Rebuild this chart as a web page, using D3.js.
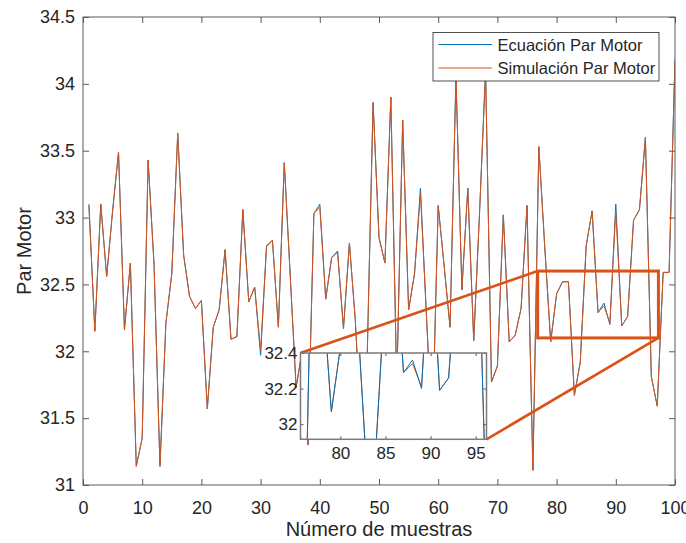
<!DOCTYPE html>
<html>
<head>
<meta charset="utf-8">
<script src="https://cdn.jsdelivr.net/npm/d3@7"></script>
<style>
  body { margin: 0; background: #fff; }
  svg { display: block; font-family: "Liberation Sans", Arial, sans-serif; }
</style>
</head>
<body>
<svg id="chart" width="686" height="543"></svg>
<script>
// Sample index (x) and the two torque series
const muestras = d3.range(1, 101);

const parEcuacion = [
  33.10, 32.15, 33.10, 32.56, 33.05, 33.49, 32.16, 32.66, 31.14, 31.35,
  33.43, 32.65, 31.14, 32.21, 32.58, 33.63, 32.72, 32.41, 32.32, 32.38,
  31.57, 32.18, 32.31, 32.76, 32.09, 32.11, 33.06, 32.37, 32.48, 31.97,
  32.79, 32.83, 32.18, 33.41, 32.57, 31.73, 32.00, 31.30, 33.03, 33.10,
  32.39, 32.70, 32.75, 32.17, 32.81, 32.23, 31.40, 31.95, 33.86, 32.85,
  32.66, 33.90, 31.75, 33.73, 32.31, 32.58, 33.22, 32.28, 31.37, 33.09,
  32.64, 32.18, 34.06, 32.46, 33.22, 32.08, 33.05, 34.10, 31.77, 31.89,
  33.02, 32.07, 32.12, 32.32, 33.09, 31.11, 33.53, 32.78, 32.07, 32.43,
  32.52, 32.52, 31.67, 31.92, 32.79, 33.05, 32.29, 32.36, 32.20, 33.10,
  32.19, 32.26, 32.98, 33.06, 33.60, 31.81, 31.59, 32.59, 32.59, 34.19
];

const parSimulacion = [
  33.09, 32.15, 33.10, 32.56, 33.05, 33.49, 32.16, 32.66, 31.14, 31.35,
  33.43, 32.65, 31.14, 32.21, 32.58, 33.63, 32.72, 32.41, 32.32, 32.38,
  31.57, 32.18, 32.31, 32.76, 32.09, 32.11, 33.06, 32.37, 32.48, 32.01,
  32.78, 32.83, 32.18, 33.41, 32.57, 31.73, 32.00, 31.30, 33.03, 33.08,
  32.39, 32.70, 32.74, 32.17, 32.81, 32.23, 31.40, 31.95, 33.86, 32.85,
  32.66, 33.90, 31.75, 33.73, 32.31, 32.58, 33.18, 32.28, 31.37, 33.09,
  32.64, 32.18, 34.06, 32.46, 33.22, 32.08, 33.05, 34.10, 31.77, 31.89,
  33.02, 32.07, 32.12, 32.32, 33.09, 31.11, 33.53, 32.78, 32.07, 32.43,
  32.52, 32.52, 31.67, 31.92, 32.79, 33.05, 32.29, 32.34, 32.21, 33.05,
  32.19, 32.26, 32.98, 33.06, 33.60, 31.81, 31.59, 32.59, 32.59, 34.16
];

const seriesNames = ["Ecuación Par Motor", "Simulación Par Motor"];
const seriesColors = ["#0072BD", "#D95319"];

const xTicks = [0, 10, 20, 30, 40, 50, 60, 70, 80, 90, 100];
const yTicks = [31, 31.5, 32, 32.5, 33, 33.5, 34, 34.5];
const xDomain = [0, 100];
const yDomain = [31, 34.5];

// Highlighted region and the magnified view
const zoomBoxX = [76.8, 97.2];
const zoomBoxY = [32.1, 32.6];
const zoomXDomain = [75.58, 96.2];
const zoomYDomain = [31.915, 32.4];
const zoomXTicks = [80, 85, 90, 95];
const zoomYTicks = [32, 32.2, 32.4];

const axisColor = "#262626";
const frameColor = "#5a5a5a";
const lineWidth = 1.0;

const svg = d3.select("#chart");

// ---------- main axes ----------
const plot = { left: 83, right: 675, top: 17, bottom: 485 };
const x = d3.scaleLinear(xDomain, [plot.left, plot.right]);
const y = d3.scaleLinear(yDomain, [plot.bottom, plot.top]);

const rows = muestras.map((m, i) => ({ m, ec: parEcuacion[i], sim: parSimulacion[i] }));

const lineEc = d3.line().x(d => x(d.m)).y(d => y(d.ec));
const lineSim = d3.line().x(d => x(d.m)).y(d => y(d.sim));

svg.append("defs").append("clipPath").attr("id", "clipMain")
  .append("rect")
  .attr("x", plot.left).attr("y", plot.top)
  .attr("width", plot.right - plot.left).attr("height", plot.bottom - plot.top);

const dataG = svg.append("g").attr("clip-path", "url(#clipMain)");
dataG.append("path").datum(rows).attr("d", lineEc)
  .attr("fill", "none").attr("stroke", seriesColors[0]).attr("stroke-width", lineWidth);
dataG.append("path").datum(rows).attr("d", lineSim)
  .attr("fill", "none").attr("stroke", seriesColors[1]).attr("stroke-width", lineWidth);

function styleAxis(g, fontSize) {
  g.select(".domain").remove();
  g.selectAll(".tick line").attr("stroke", frameColor);
  g.selectAll(".tick text").attr("fill", axisColor)
    .attr("font-size", fontSize).attr("font-family", "Liberation Sans, Arial, sans-serif");
}

svg.append("g").attr("transform", `translate(0,${plot.bottom})`)
  .call(d3.axisBottom(x).tickValues(xTicks).tickSize(-6).tickPadding(16.5).tickFormat(d => String(d)))
  .call(g => styleAxis(g, 18));
svg.append("g").attr("transform", `translate(0,${plot.top})`)
  .call(d3.axisTop(x).tickValues(xTicks).tickSize(-6).tickFormat(""))
  .call(g => styleAxis(g, 18));
svg.append("g").attr("transform", `translate(${plot.left},0)`)
  .call(d3.axisLeft(y).tickValues(yTicks).tickSize(-6).tickPadding(8).tickFormat(d => String(d)))
  .call(g => styleAxis(g, 18));
svg.append("g").attr("transform", `translate(${plot.right},0)`)
  .call(d3.axisRight(y).tickValues(yTicks).tickSize(-6).tickFormat(""))
  .call(g => styleAxis(g, 18));

svg.append("rect")
  .attr("x", plot.left).attr("y", plot.top)
  .attr("width", plot.right - plot.left).attr("height", plot.bottom - plot.top)
  .attr("fill", "none").attr("stroke", frameColor).attr("stroke-width", 1);

// axis titles
svg.append("text")
  .attr("x", (plot.left + plot.right) / 2).attr("y", 536)
  .attr("text-anchor", "middle").attr("font-size", 20).attr("fill", axisColor)
  .text("Número de muestras");
svg.append("text")
  .attr("transform", `translate(31,${(plot.top + plot.bottom) / 2}) rotate(-90)`)
  .attr("text-anchor", "middle").attr("font-size", 20).attr("fill", axisColor)
  .text("Par Motor");

// ---------- legend ----------
const legend = svg.append("g");
legend.append("rect")
  .attr("x", 433).attr("y", 32.5).attr("width", 226).attr("height", 48.5)
  .attr("fill", "#fff").attr("stroke", axisColor).attr("stroke-width", 0.8);
seriesNames.forEach((name, i) => {
  const ly = 44.5 + i * 23.5;
  legend.append("line")
    .attr("x1", 438.5).attr("x2", 492).attr("y1", ly).attr("y2", ly)
    .attr("stroke", seriesColors[i]).attr("stroke-width", lineWidth);
  legend.append("text")
    .attr("x", 497.5).attr("y", ly + 6)
    .attr("font-size", 16.5).attr("fill", axisColor)
    .text(name);
});

// ---------- highlighted region + connectors ----------
const inset = { left: 300.5, right: 486.5, top: 353, bottom: 439.3 };
const hl = "#D95319";
svg.append("rect")
  .attr("x", x(zoomBoxX[0])).attr("y", y(zoomBoxY[1]))
  .attr("width", x(zoomBoxX[1]) - x(zoomBoxX[0]))
  .attr("height", y(zoomBoxY[0]) - y(zoomBoxY[1]))
  .attr("fill", "none").attr("stroke", hl).attr("stroke-width", 3);
svg.append("line")
  .attr("x1", x(zoomBoxX[0])).attr("y1", y(zoomBoxY[1]))
  .attr("x2", inset.left).attr("y2", inset.top)
  .attr("stroke", hl).attr("stroke-width", 2.6);
svg.append("line")
  .attr("x1", x(zoomBoxX[1])).attr("y1", y(zoomBoxY[0]))
  .attr("x2", inset.right).attr("y2", inset.bottom)
  .attr("stroke", hl).attr("stroke-width", 2.6);

// ---------- magnified view ----------
const xi = d3.scaleLinear(zoomXDomain, [inset.left, inset.right]);
const yi = d3.scaleLinear(zoomYDomain, [inset.bottom, inset.top]);

svg.select("defs").append("clipPath").attr("id", "clipInset")
  .append("rect")
  .attr("x", inset.left).attr("y", inset.top)
  .attr("width", inset.right - inset.left).attr("height", inset.bottom - inset.top);

svg.append("rect")
  .attr("x", inset.left).attr("y", inset.top)
  .attr("width", inset.right - inset.left).attr("height", inset.bottom - inset.top)
  .attr("fill", "#fff");

const insetG = svg.append("g").attr("clip-path", "url(#clipInset)");
insetG.append("path").datum(rows)
  .attr("d", d3.line().x(d => xi(d.m)).y(d => yi(d.sim)))
  .attr("fill", "none").attr("stroke", seriesColors[1]).attr("stroke-width", lineWidth);
insetG.append("path").datum(rows)
  .attr("d", d3.line().x(d => xi(d.m)).y(d => yi(d.ec)))
  .attr("fill", "none").attr("stroke", seriesColors[0]).attr("stroke-width", lineWidth);

svg.append("g").attr("transform", `translate(0,${inset.bottom})`)
  .call(d3.axisBottom(xi).tickValues(zoomXTicks).tickSize(-3).tickPadding(8).tickFormat(d => String(d)))
  .call(g => styleAxis(g, 17));
svg.append("g").attr("transform", `translate(0,${inset.top})`)
  .call(d3.axisTop(xi).tickValues(zoomXTicks).tickSize(-3).tickFormat(""))
  .call(g => styleAxis(g, 17));
svg.append("g").attr("transform", `translate(${inset.left},0)`)
  .call(d3.axisLeft(yi).tickValues(zoomYTicks).tickSize(-3).tickPadding(3).tickFormat(d => String(d)))
  .call(g => styleAxis(g, 17));
svg.append("g").attr("transform", `translate(${inset.right},0)`)
  .call(d3.axisRight(yi).tickValues(zoomYTicks).tickSize(-3).tickFormat(""))
  .call(g => styleAxis(g, 17));

svg.append("rect")
  .attr("x", inset.left).attr("y", inset.top)
  .attr("width", inset.right - inset.left).attr("height", inset.bottom - inset.top)
  .attr("fill", "none").attr("stroke", "#7a7a7a").attr("stroke-width", 1.5);
</script>
</body>
</html>
